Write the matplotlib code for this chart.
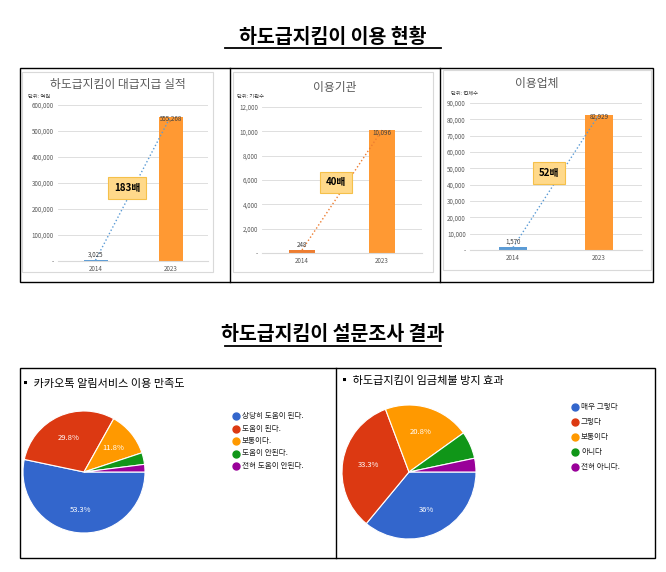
import matplotlib
matplotlib.use("Agg")
import matplotlib.pyplot as plt
from matplotlib.patches import Rectangle
from matplotlib.lines import Line2D
from matplotlib import font_manager

names = {f.name for f in font_manager.fontManager.ttflist}
fams = [n for n in ['Noto Sans CJK KR', 'Noto Sans CJK JP', 'Noto Sans CJK SC', 'Noto Sans CJK TC'] if n in names]
plt.rcParams['font.family'] = fams + ['DejaVu Sans']

years = ['2014', '2023']
loan_vals = [3025, 555268]
inst_vals = [248, 10096]
firm_vals = [1570, 82929]
loan_ticks = [0, 100000, 200000, 300000, 400000, 500000, 600000]
inst_ticks = [0, 2000, 4000, 6000, 8000, 10000, 12000]
firm_ticks = [0, 10000, 20000, 30000, 40000, 50000, 60000, 70000, 80000, 90000]
ratios = ['183배', '40배', '52배']

sat_labels = ['상당히 도움이 된다.', '도움이 된다.', '보통이다.', '도움이 안된다.', '전혀 도움이 안된다.']
sat_vals = [53.3, 29.8, 11.8, 3.1, 2.0]
eff_labels = ['매우 그렇다', '그렇다', '보통이다', '아니다', '전혀 아니다.']
eff_vals = [36.0, 33.3, 20.8, 6.6, 3.3]
pie_colors = ['#3366CC', '#DC3912', '#FF9900', '#109618', '#990099']

W, H = 666, 572
fig = plt.figure(figsize=(W/100, H/100), dpi=100)

def ax_px(x, y, w, h, **kw):
    return fig.add_axes([x/W, 1-(y+h)/H, w/W, h/H], **kw)

def box(x, y, w, h, color='black', lw=1.0):
    fig.patches.append(Rectangle((x/W, 1-(y+h)/H), w/W, h/H, transform=fig.transFigure,
                                 fill=False, edgecolor=color, linewidth=lw))

def ftext(x, y, s, **kw):
    return fig.text(x/W, 1-y/H, s, **kw)

for yy, s in [(37, '하도급지킴이 이용 현황'), (335, '하도급지킴이 설문조사 결과')]:
    ftext(333, yy, s, ha='center', va='center', fontsize=14, fontweight='bold')
    fig.add_artist(Line2D([(333-108)/W, (333+108)/W], [1-(yy+11)/H]*2, color='black', lw=1.3))

box(20, 68, 633, 214)
fig.add_artist(Line2D([230/W]*2, [1-68/H, 1-282/H], color='black', lw=1))
fig.add_artist(Line2D([440/W]*2, [1-68/H, 1-282/H], color='black', lw=1))
box(22, 72, 191, 200, color='#D9D9D9', lw=0.8)
box(233, 72, 200, 200, color='#D9D9D9', lw=0.8)
box(443, 70, 208, 200, color='#D9D9D9', lw=0.8)

def fmt(v):
    return '-' if v == 0 else f'{v:,}'

def bar_chart(rect, vals, ticks, c2014, linec, title, title_xy, unit, unit_xy, ratio, ratio_y):
    ax = ax_px(*rect)
    ax.bar([0, 1], vals, width=0.32, color=[c2014, '#FF9933'])
    ax.plot([0, 1], vals, ls=':', color=linec, lw=1)
    ax.set_xlim(-0.5, 1.5)
    ax.set_ylim(0, ticks[-1])
    ax.set_yticks(ticks)
    ax.set_yticklabels([fmt(t) for t in ticks], fontsize=4.5, color='#595959')
    ax.set_xticks([0, 1])
    ax.set_xticklabels(years, fontsize=4.5, color='#595959')
    ax.tick_params(length=0, pad=3)
    ax.grid(axis='y', color='#D9D9D9', lw=0.6)
    ax.set_axisbelow(True)
    for s in ['top', 'right', 'left']:
        ax.spines[s].set_visible(False)
    ax.spines['bottom'].set_color('#D9D9D9')
    for i, v in enumerate(vals):
        ax.text(i, v + ticks[-1]*0.01, f'{v:,}', ha='center', va='bottom' if i == 0 else 'top',
                fontsize=4.5, color='#404040')
    ax.text(0.42, ratio_y, ratio, ha='center', va='center', fontsize=7, fontweight='bold',
            bbox=dict(boxstyle='square,pad=0.6', fc='#FFD98A', ec='#F5C04A', lw=0.8))
    ftext(*title_xy, title, ha='center', va='center', fontsize=8.5, color='#595959')
    ftext(*unit_xy, unit, ha='left', va='center', fontsize=3.8, color='#404040')

bar_chart((58, 105, 150, 156), loan_vals, loan_ticks, '#5B9BD5', '#5B9BD5',
          '하도급지킴이 대급지급 실적', (118, 85), '단위: 억원', (28, 97), ratios[0], 280000)
bar_chart((262, 107, 160, 146), inst_vals, inst_ticks, '#ED7D31', '#ED7D31',
          '이용기관', (335, 88), '단위: 기관수', (237, 96), ratios[1], 5800)
bar_chart((470, 103, 172, 147), firm_vals, firm_ticks, '#5B9BD5', '#5B9BD5',
          '이용업체', (537, 84), '단위: 업체수', (451, 93), ratios[2], 47000)

box(20, 368, 635, 190)
fig.add_artist(Line2D([336/W]*2, [1-368/H, 1-558/H], color='black', lw=1))

def pie_chart(cx, cy, r, vals, labels, title, title_xy, leg_x, leg_y0, leg_dy):
    ax = ax_px(cx - r, cy - r, 2*r, 2*r)
    wedges, _, autot = ax.pie(vals, colors=pie_colors, startangle=0, counterclock=False,
                              autopct=lambda p: f'{p:.1f}%' if p > 8 else '',
                              pctdistance=0.62,
                              wedgeprops=dict(edgecolor='white', linewidth=0.8),
                              textprops=dict(color='white', fontsize=5.5))
    for t in autot:
        if t.get_text() == '36.0%':
            t.set_text('36%')
    ax.set_xlim(-1, 1)
    ax.set_ylim(-1, 1)
    ax.set_aspect('equal')
    ftext(*title_xy, '▪ ' + title, ha='left', va='center', fontsize=8)
    for i, (lab, c) in enumerate(zip(labels, pie_colors)):
        y = leg_y0 + i*leg_dy
        fig.add_artist(Line2D([leg_x/W], [1-y/H], marker='o', color=c, markersize=5, ls=''))
        ftext(leg_x + 6, y, lab, ha='left', va='center', fontsize=5.5, color='#222222')

pie_chart(84, 472, 61, sat_vals, sat_labels, '카카오톡 알림서비스 이용 만족도', (20, 384), 236, 416, 12.5)
pie_chart(409, 472, 67, eff_vals, eff_labels, '하도급지킴이 임금체불 방지 효과', (339, 381), 575, 407, 15)

fig.savefig('out.png', dpi=100)
